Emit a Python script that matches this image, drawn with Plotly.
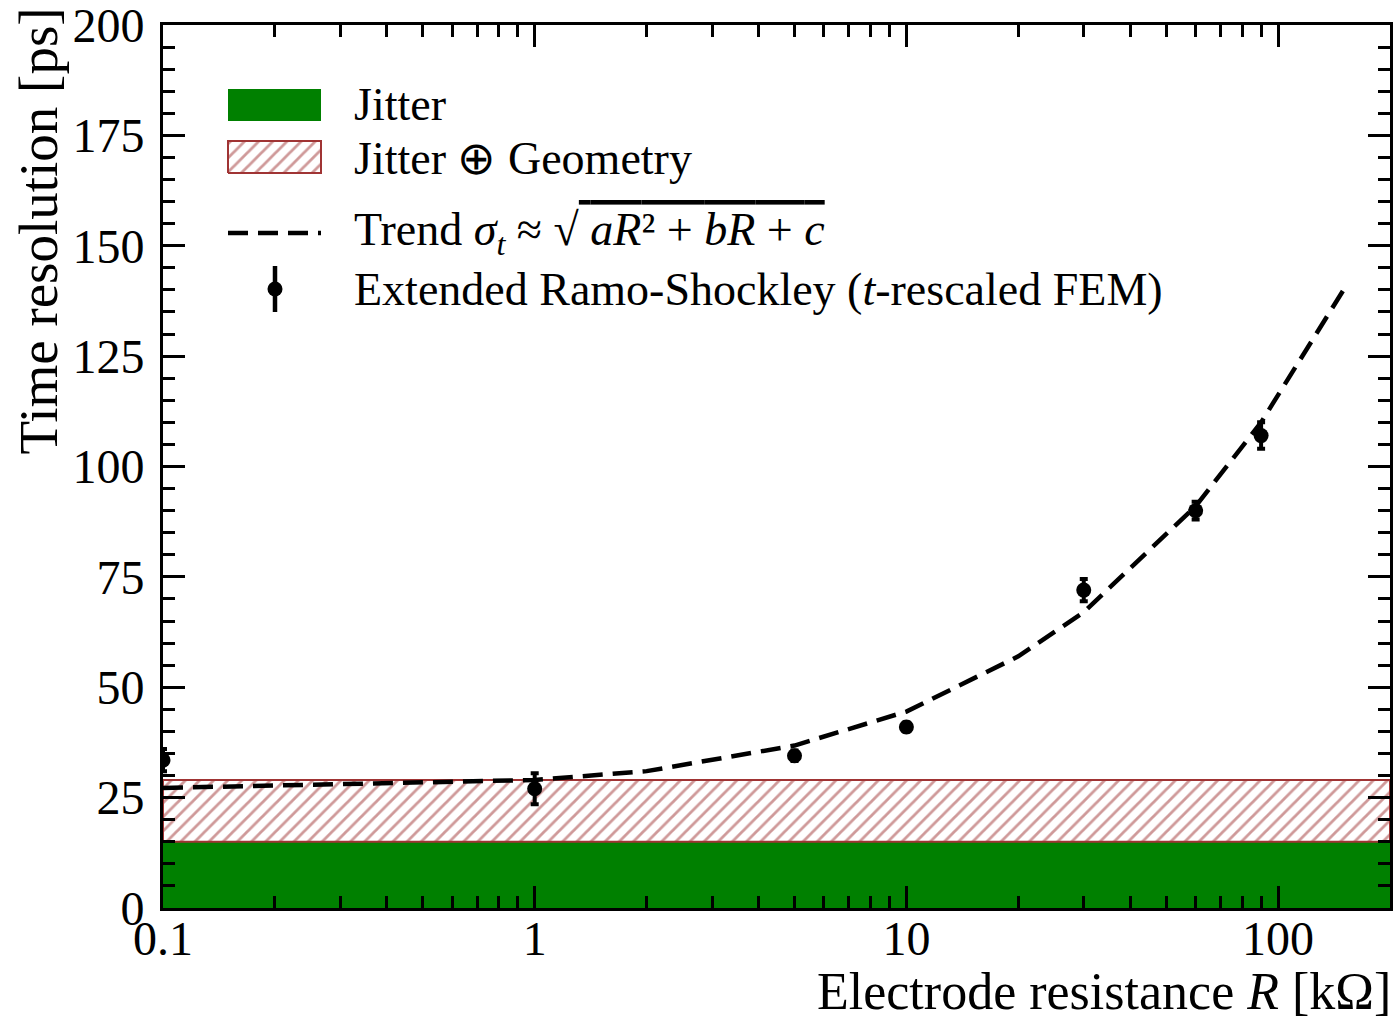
import plotly.graph_objects as go

# ---- data ----
R_points = [0.1, 1, 5, 10, 30, 60, 90]
sigma_points = [33.5, 27, 34.5, 41, 72, 90, 107]
sigma_err = [2.5, 3.5, 1.2, 1.0, 2.5, 2.0, 3.0]

R_trend = [0.1, 1, 2, 5, 10, 20, 30, 60, 90, 150]
sigma_trend = [27.2, 29.0, 31.0, 36.8, 44.5, 57.0, 67.0, 91.0, 110.0, 140.0]

x_range = [0.1, 200]
jitter_level = 15
geom_level = 29

x_tickvals = [0.1, 1, 10, 100]
x_ticktext = ["0.1", "1", "10", "100"]
y_tickvals = [0, 25, 50, 75, 100, 125, 150, 175, 200]

legend_labels = [
    "Jitter",
    "Jitter ⊕ Geometry",
    "Trend <i>σ<sub>t</sub></i> ≈ √<span style='text-decoration:overline'> <i>aR</i>² + <i>bR</i> + <i>c</i></span>",
    "Extended Ramo-Shockley (<i>t</i>-rescaled FEM)",
]

FONT = "Liberation Serif"
green = "#008000"
hatch = "#a03434"

# ---- layout geometry (pixels) ----
W, H = 1393, 1020
L, R_, T, B = 163, 3, 25, 112
PW, PH = W - L - R_, H - T - B


def px2x(px):
    return (px - L) / PW


def px2y(py):
    return (H - B - py) / PH


fig = go.Figure()

# Jitter band
fig.add_trace(go.Scatter(
    x=[x_range[0], x_range[1], x_range[1], x_range[0], x_range[0]],
    y=[0, 0, jitter_level, jitter_level, 0],
    fill="toself", fillcolor=green, mode="lines",
    line=dict(color=green, width=0), showlegend=False, hoverinfo="skip",
))
# Jitter + Geometry band
fig.add_trace(go.Scatter(
    x=[x_range[0], x_range[1], x_range[1], x_range[0], x_range[0]],
    y=[jitter_level, jitter_level, geom_level, geom_level, jitter_level],
    fill="toself", fillcolor="white", mode="lines",
    fillpattern=dict(shape="/", fgcolor=hatch, bgcolor="white", size=10, solidity=0.28),
    line=dict(color=hatch, width=2), showlegend=False, hoverinfo="skip",
))
# Trend
fig.add_trace(go.Scatter(
    x=R_trend, y=sigma_trend, mode="lines",
    line=dict(color="black", width=4.5, dash="20px,10px"),
    showlegend=False, hoverinfo="skip",
))
# Points
fig.add_trace(go.Scatter(
    x=R_points, y=sigma_points, mode="markers",
    marker=dict(color="black", size=15),
    error_y=dict(type="data", array=sigma_err, color="black", thickness=4, width=4),
    showlegend=False,
))

# ---- legend keys (overlay axes in 0..1 plot-fraction units) ----
kx0, kx1 = px2x(228), px2x(321)
fig.add_trace(go.Scatter(
    x=[kx0, kx1, kx1, kx0, kx0], y=[px2y(121), px2y(121), px2y(89), px2y(89), px2y(121)],
    xaxis="x2", yaxis="y2", fill="toself", fillcolor=green, mode="lines",
    line=dict(color=green, width=0), showlegend=False, hoverinfo="skip",
))
fig.add_trace(go.Scatter(
    x=[kx0, kx1, kx1, kx0, kx0], y=[px2y(173), px2y(173), px2y(141), px2y(141), px2y(173)],
    xaxis="x2", yaxis="y2", fill="toself", fillcolor="white", mode="lines",
    fillpattern=dict(shape="/", fgcolor=hatch, bgcolor="white", size=10, solidity=0.28),
    line=dict(color=hatch, width=2), showlegend=False, hoverinfo="skip",
))
fig.add_trace(go.Scatter(
    x=[kx0, kx1], y=[px2y(233), px2y(233)],
    xaxis="x2", yaxis="y2", mode="lines",
    line=dict(color="black", width=4.5, dash="20px,10px"), showlegend=False, hoverinfo="skip",
))
fig.add_trace(go.Scatter(
    x=[px2x(275)], y=[px2y(289)],
    xaxis="x2", yaxis="y2", mode="markers",
    marker=dict(color="black", size=15),
    error_y=dict(type="data", array=[23 / PH], color="black", thickness=4.5, width=0),
    showlegend=False, hoverinfo="skip",
))

axis_common = dict(
    showline=True, linecolor="black", linewidth=3, mirror="ticks",
    ticks="inside", ticklen=22, tickwidth=3, tickcolor="black",
    showgrid=False, zeroline=False, automargin=False,
    ticklabeloverflow="allow",
    tickfont=dict(family=FONT, size=48, color="black"),
)

fig.update_xaxes(
    type="log", range=[-1, 2.30103],
    tickvals=x_tickvals, ticktext=x_ticktext, ticklabelstandoff=-14,
    minor=dict(ticks="inside", ticklen=12, tickwidth=2.5, tickcolor="black", dtick="D1", showgrid=False),
    **axis_common,
)
fig.update_yaxes(
    range=[0, 200], tickvals=y_tickvals, ticklabelstandoff=6,
    minor=dict(ticks="inside", ticklen=12, tickwidth=2.5, tickcolor="black", dtick=5, showgrid=False),
    **axis_common,
)

annotations = [
    dict(text="Time resolution [ps]", xref="paper", yref="paper",
         x=px2x(38), y=px2y(6), xanchor="center", yanchor="top", textangle=-90,
         showarrow=False, font=dict(family=FONT, size=55, color="black")),
    dict(text="Electrode resistance <i>R</i> [kΩ]", xref="paper", yref="paper",
         x=px2x(1393), y=px2y(1022), xanchor="right", yanchor="bottom",
         showarrow=False, font=dict(family=FONT, size=52, color="black")),
]
for label, cy in zip(legend_labels, [105, 158, 233, 289]):
    annotations.append(dict(
        text=label, xref="paper", yref="paper", x=px2x(352), y=px2y(cy),
        xanchor="left", yanchor="middle", showarrow=False,
        font=dict(family=FONT, size=46, color="black"),
    ))

fig.update_layout(
    width=W, height=H,
    margin=dict(l=L, r=R_, t=T, b=B),
    paper_bgcolor="white", plot_bgcolor="white",
    font=dict(family=FONT, size=46, color="black"),
    showlegend=False,
    xaxis2=dict(overlaying="x", range=[0, 1], visible=False, fixedrange=True),
    yaxis2=dict(overlaying="y", range=[0, 1], visible=False, fixedrange=True),
    annotations=annotations,
)

fig.write_html(
    "out.html",
    config={"displayModeBar": False},
    post_script="document.body.style.margin='0';document.body.style.overflow='hidden';",
)
